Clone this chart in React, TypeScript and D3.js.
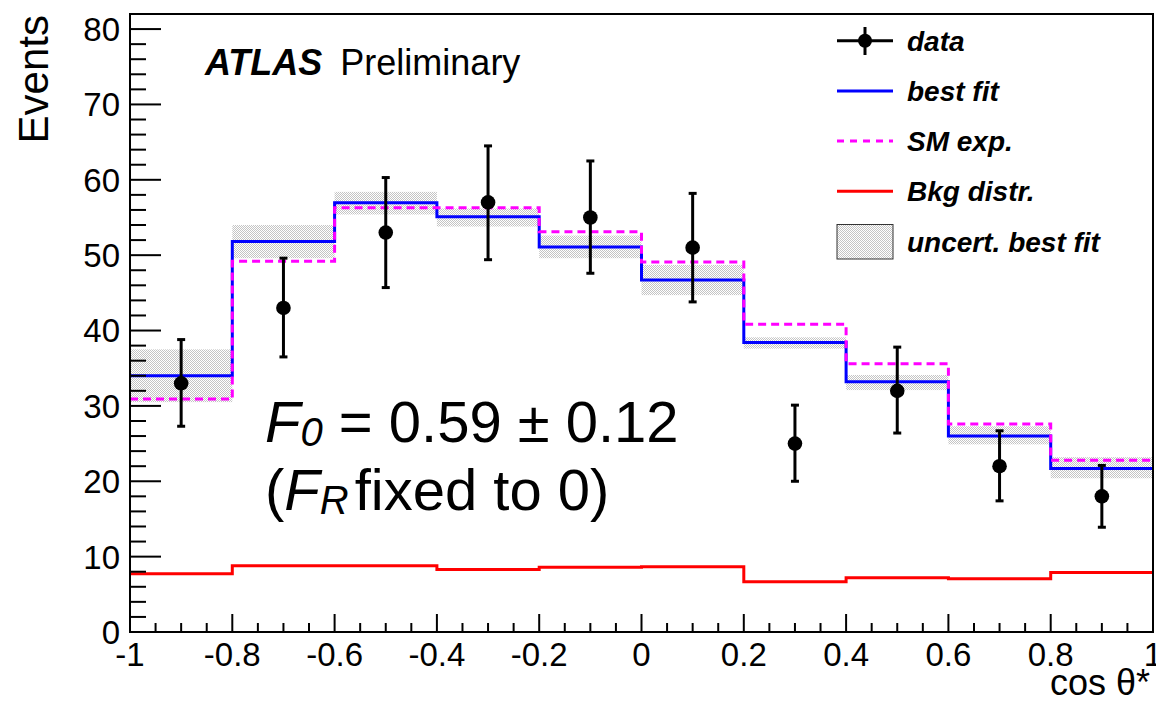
import React from "react";
import * as d3 from "d3";

const binEdges = [-1, -0.8, -0.6, -0.4, -0.2, 0, 0.2, 0.4, 0.6, 0.8, 1];
const binCenters = [-0.9, -0.7, -0.5, -0.3, -0.1, 0.1, 0.3, 0.5, 0.7, 0.9];
const dataVals = [33, 43, 53, 57, 55, 51, 25, 32, 22, 18];
const dataLow = [27.3, 36.5, 45.7, 49.4, 47.6, 43.8, 20.0, 26.4, 17.4, 13.9];
const dataHigh = [38.8, 49.6, 60.3, 64.5, 62.5, 58.2, 30.1, 37.8, 26.7, 22.1];
const bestFit = [34.0, 51.8, 56.95, 55.1, 51.1, 46.7, 38.4, 33.2, 26.0, 21.7];
const smExp = [30.9, 49.2, 56.3, 56.3, 53.1, 49.1, 40.85, 35.6, 27.6, 22.8];
const bandLow = [30.5, 49.6, 55.4, 53.8, 49.6, 44.7, 37.6, 32.1, 24.9, 20.4];
const bandHigh = [37.5, 54.0, 58.4, 56.2, 52.6, 48.7, 39.1, 34.1, 27.3, 23.2];
const bkg = [7.73, 8.8, 8.8, 8.3, 8.58, 8.66, 6.67, 7.2, 7.07, 7.9];
const yTicks = [0, 10, 20, 30, 40, 50, 60, 70, 80];
const xTicks = [-1, -0.8, -0.6, -0.4, -0.2, 0, 0.2, 0.4, 0.6, 0.8, 1];
const xTickLabels = ["-1", "-0.8", "-0.6", "-0.4", "-0.2", "0", "0.2", "0.4", "0.6", "0.8", "1"];
const legendLabels = ["data", "best fit", "SM exp.", "Bkg distr.", "uncert. best fit"];

const W = 1156, H = 702;
const L = 130, R = 1153, T = 14, B = 632;
const FONT = "'Liberation Sans', Arial, Helvetica, sans-serif";

export default function App() {
  const x = d3.scaleLinear().domain([-1, 1]).range([L, R]);
  const y = d3.scaleLinear().domain([0, 82]).range([B, T]);

  const stepPts = (vals: number[]) => {
    const pts: [number, number][] = vals.map((v, i) => [binEdges[i], v]);
    pts.push([binEdges[binEdges.length - 1], vals[vals.length - 1]]);
    return pts;
  };
  const stepLine = d3
    .line<[number, number]>()
    .x((d) => x(d[0]))
    .y((d) => y(d[1]))
    .curve(d3.curveStepAfter);

  const bandRects = bandLow.map((lo, i) => ({
    x0: x(binEdges[i]),
    x1: x(binEdges[i + 1]),
    y0: y(bandHigh[i]),
    y1: y(lo),
  }));

  const minorX = d3.range(-1, 1.0001, 0.05).map((v) => Math.round(v * 100) / 100);
  const minorY = d3.range(0, 82, 2);

  const legendRowY = (i: number) => 40.7 + i * 50.2;

  return (
    <svg
      width={W}
      height={H}
      style={{ position: "absolute", left: 0, top: 0, background: "#fff" }}
      fontFamily={FONT}
    >
      <defs>
        <pattern id="chk" width="2" height="2" patternUnits="userSpaceOnUse">
          <rect width="2" height="2" fill="#ffffff" />
          <rect x="0" y="0" width="1" height="1" fill="#c4c4c4" />
          <rect x="1" y="1" width="1" height="1" fill="#c4c4c4" />
        </pattern>
      </defs>
      <rect width={W} height={H} fill="#fff" />

      {bandRects.map((b, i) => (
        <rect key={"b" + i} x={b.x0} y={b.y0} width={b.x1 - b.x0} height={b.y1 - b.y0} fill="url(#chk)" />
      ))}

      <path d={stepLine(stepPts(bkg)) || ""} fill="none" stroke="#ff0000" strokeWidth={3} />
      <path d={stepLine(stepPts(bestFit)) || ""} fill="none" stroke="#0000ff" strokeWidth={3} />
      <path
        d={stepLine(stepPts(smExp)) || ""}
        fill="none"
        stroke="#ff00ff"
        strokeWidth={3}
        strokeDasharray="8,5"
      />

      {dataVals.map((v, i) => {
        const cx = x(binCenters[i]);
        return (
          <g key={"d" + i}>
            <line x1={cx} x2={cx} y1={y(dataLow[i])} y2={y(dataHigh[i])} stroke="#000" strokeWidth={3} />
            <line x1={cx - 4} x2={cx + 4} y1={y(dataLow[i])} y2={y(dataLow[i])} stroke="#000" strokeWidth={3} />
            <line x1={cx - 4} x2={cx + 4} y1={y(dataHigh[i])} y2={y(dataHigh[i])} stroke="#000" strokeWidth={3} />
            <circle cx={cx} cy={y(v)} r={7.3} fill="#000" />
          </g>
        );
      })}

      <rect x={L} y={T} width={R - L} height={B - T} fill="none" stroke="#000" strokeWidth={2} />

      {minorY.map((v) => (
        <line key={"my" + v} x1={L} x2={L + (v % 10 === 0 ? 31 : 16)} y1={y(v)} y2={y(v)} stroke="#000" strokeWidth={2} />
      ))}
      {yTicks.map((v) => (
        <text key={"yt" + v} x={120} y={y(v)} dy="0.36em" textAnchor="end" fontSize={33} fill="#000">
          {v}
        </text>
      ))}

      {minorX.map((v, i) => (
        <line key={"mx" + i} x1={x(v)} x2={x(v)} y1={B} y2={B - (i % 4 === 0 ? 18 : 9)} stroke="#000" strokeWidth={2} />
      ))}
      {xTicks.map((v, i) => (
        <text key={"xt" + i} x={x(v)} y={666} textAnchor="middle" fontSize={33} fill="#000">
          {xTickLabels[i]}
        </text>
      ))}

      <text transform="translate(48,15) rotate(-90)" textAnchor="end" fontSize={42} fill="#000">
        Events
      </text>
      <text x={1150} y={695} textAnchor="end" fontSize={36} fill="#000">
        cos θ*
      </text>

      <text x={205} y={75} fontSize={36} fill="#000">
        <tspan fontWeight="bold" fontStyle="italic">ATLAS</tspan>
        <tspan dx={18}>Preliminary</tspan>
      </text>

      <text x={265} y={442} fontSize={58} fill="#000">
        <tspan fontStyle="italic">F</tspan>
        <tspan fontStyle="italic" fontSize={40} dy={4}>0</tspan>
        <tspan dy={-4}> = 0.59 ± 0.12</tspan>
      </text>
      <text x={265} y={510} fontSize={58} fill="#000">
        <tspan>(</tspan>
        <tspan fontStyle="italic">F</tspan>
        <tspan fontStyle="italic" fontSize={40} dy={4}>R</tspan>
        <tspan dy={-4} dx={6}>fixed to 0)</tspan>
      </text>

      <g>
        <line x1={837} x2={893} y1={legendRowY(0)} y2={legendRowY(0)} stroke="#000" strokeWidth={3} />
        <line x1={865} x2={865} y1={27} y2={55} stroke="#000" strokeWidth={3} />
        <circle cx={865} cy={legendRowY(0)} r={7} fill="#000" />
        <line x1={837} x2={893} y1={legendRowY(1)} y2={legendRowY(1)} stroke="#0000ff" strokeWidth={3} />
        <line x1={837} x2={893} y1={legendRowY(2)} y2={legendRowY(2)} stroke="#ff00ff" strokeWidth={3} strokeDasharray="7,6" />
        <line x1={837} x2={893} y1={legendRowY(3)} y2={legendRowY(3)} stroke="#ff0000" strokeWidth={3} />
        <rect x={837} y={224.5} width={56} height={34.5} fill="url(#chk)" stroke="#333" strokeWidth={1} />
        {legendLabels.map((t, i) => (
          <text
            key={"lg" + i}
            x={907}
            y={legendRowY(i) + 10}
            fontSize={28}
            fontWeight="bold"
            fontStyle="italic"
            fill="#000"
          >
            {t}
          </text>
        ))}
      </g>
    </svg>
  );
}
